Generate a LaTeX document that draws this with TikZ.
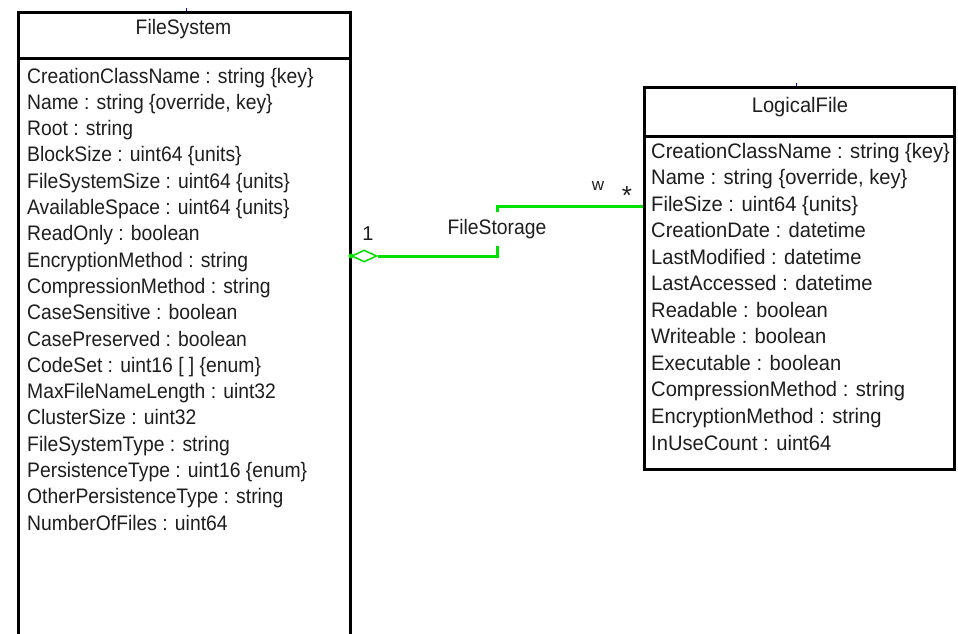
\documentclass[tikz,border=0pt]{standalone}
\usepackage{fontspec}
\setmainfont{Liberation Sans}
\newfontfamily\lfont[FakeStretch=0.92]{Liberation Sans}
\newfontfamily\rfont[FakeStretch=0.96]{Liberation Sans}
\usetikzlibrary{shapes.geometric}
\definecolor{assoc}{RGB}{0,225,0}
\definecolor{txt}{RGB}{30,30,30}
\begin{document}
\begin{tikzpicture}[x=1pt,y=-1pt,
  classbox/.style={draw=black,line width=3pt,fill=white,inner sep=0pt,anchor=north west},
  lattr/.style={anchor=base west,inner sep=0pt,text=txt,font=\lfont\fontsize{21}{25}\selectfont},
  rattr/.style={anchor=base west,inner sep=0pt,text=txt,font=\rfont\fontsize{21}{25}\selectfont},
  lhead/.style={anchor=base,inner sep=0pt,text=txt,font=\lfont\fontsize{21}{25}\selectfont},
  rhead/.style={anchor=base,inner sep=0pt,text=txt,font=\rfont\fontsize{21}{25}\selectfont},
  assocline/.style={draw=assoc,line width=3pt},
  mult/.style={inner sep=0pt,text=txt,font=\fontsize{19}{22}\selectfont}]
\clip (0,0) rectangle (958,634);
\fill[white] (0,0) rectangle (958,634);
% FileSystem class
\node[classbox,minimum width=332pt,minimum height=46pt] (fsh) at (17,11) {};
\node[classbox,minimum width=332pt,minimum height=660pt] (fsb) at (17,57) {};
\node[lhead] (fsname) at (183.5,35) {FileSystem};
\foreach \t [count=\i] in {
  {CreationClassName : string \{key\}},
  {Name : string \{override, key\}},
  {Root : string},
  {BlockSize : uint64 \{units\}},
  {FileSystemSize : uint64 \{units\}},
  {AvailableSpace : uint64 \{units\}},
  {ReadOnly : boolean},
  {EncryptionMethod : string},
  {CompressionMethod : string},
  {CaseSensitive : boolean},
  {CasePreserved : boolean},
  {CodeSet : uint16 [ ] \{enum\}},
  {MaxFileNameLength : uint32},
  {ClusterSize : uint32},
  {FileSystemType : string},
  {PersistenceType : uint16 \{enum\}},
  {OtherPersistenceType : string},
  {NumberOfFiles : uint64}}
  \node[lattr] (fsa\i) at (27,{83+(\i-1)*26.3}) {\t};
% LogicalFile class
\node[classbox,minimum width=310pt,minimum height=49pt] (lfh) at (643,86) {};
\node[classbox,minimum width=310pt,minimum height=333pt] (lfb) at (643,135) {};
\node[rhead] (lfname) at (800,112) {LogicalFile};
\foreach \t [count=\i] in {
  {CreationClassName : string \{key\}},
  {Name : string \{override, key\}},
  {FileSize : uint64 \{units\}},
  {CreationDate : datetime},
  {LastModified : datetime},
  {LastAccessed : datetime},
  {Readable : boolean},
  {Writeable : boolean},
  {Executable : boolean},
  {CompressionMethod : string},
  {EncryptionMethod : string},
  {InUseCount : uint64}}
  \node[rattr] (lfa\i) at (651,{158+(\i-1)*26.55}) {\t};
% small blue marks
\draw[blue,line width=1pt] (fsh.north) ++(1.5,-3) -- ++(0,3);
\draw[blue,line width=1pt] (lfh.north) ++(-3,-3) -- ++(0,3);
% FileStorage association
\node[diamond,draw=assoc,fill=white,line width=1.5pt,minimum width=25pt,minimum height=12pt,inner sep=0pt,anchor=west] (dia) at (351,256) {};
\fill[assoc] (dia.west) circle (2.5pt);
\coordinate (bend) at (497,256);
\coordinate (lfend) at (lfb.west |- 0,206);
\draw[assocline] (dia.east) -- (bend) |- (lfend);
\node[mult,fill=white,minimum height=34pt,inner xsep=1pt,font=\lfont\fontsize{21}{24}\selectfont] (fstor) at (497,229) {FileStorage};
\node[mult,font=\fontsize{20}{22}\selectfont] (m1) at (368,234) {1};
\node[mult,font=\fontsize{17}{18}\selectfont] (mw) at (598,186) {w};
\node[mult,font=\fontsize{26}{28}\selectfont] (mstar) at (627,196) {*};
\end{tikzpicture}
\end{document}
